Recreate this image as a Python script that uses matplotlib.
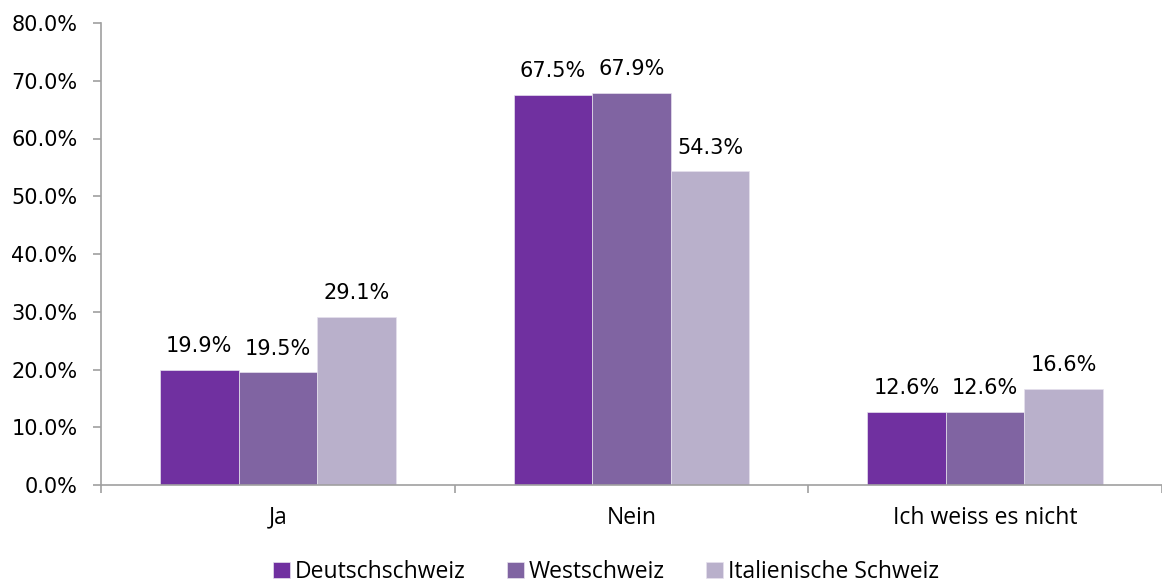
import matplotlib
matplotlib.use("Agg")
import matplotlib.pyplot as plt
import numpy as np
from matplotlib.ticker import FuncFormatter, FixedLocator

categories = ["Ja", "Nein", "Ich weiss es nicht"]
series_names = ["Deutschschweiz", "Westschweiz", "Italienische Schweiz"]
deutsch = [19.9, 67.5, 12.6]
west = [19.5, 67.9, 12.6]
ital = [29.1, 54.3, 16.6]
colors = ["#7030A0", "#8064A2", "#B9B0CB"]

fig = plt.figure(figsize=(11.62, 5.85), dpi=100)
W, H = 1162, 585
left, right = 101, 1162
top, bottom = 23, 485
ax = fig.add_axes([left / W, 1 - bottom / H, (right - left) / W, (bottom - top) / H])

x = np.arange(len(categories))
bw = 0.222
for i, (vals, name, c) in enumerate(zip([deutsch, west, ital], series_names, colors)):
    bars = ax.bar(x + (i - 1) * bw, vals, bw, color=c, label=name,
                  edgecolor="#E6E1EE", linewidth=0.5)
    for b, v in zip(bars, vals):
        ax.text(b.get_x() + b.get_width() / 2, v + 2.4, f"{v:.1f}%",
                ha="center", va="bottom", fontsize=15, color="#000000")

cat_w = 357.5
ax.set_xlim(-0.5, -0.5 + (right - left) / cat_w)
ax.set_ylim(0, 80)
ax.yaxis.set_major_locator(FixedLocator(np.arange(0, 81, 10)))
ax.yaxis.set_major_formatter(FuncFormatter(lambda v, p: f"{v:.1f}%"))
ax.tick_params(axis="y", labelsize=15, length=6, width=1.2, color="#A0A0A0", pad=11)

ax.set_xticks(x)
ax.set_xticklabels(categories, fontsize=16.5, family=["Open Sans", "DejaVu Sans"])
ax.tick_params(axis="x", length=0, pad=15)
ax.set_xticks([-0.5, 0.5, 1.5, 2.5], minor=True)
ax.tick_params(axis="x", which="minor", length=6, color="#A0A0A0", width=1.2)

for s in ["top", "right"]:
    ax.spines[s].set_visible(False)
for s in ["left", "bottom"]:
    ax.spines[s].set_color("#A0A0A0")
    ax.spines[s].set_linewidth(1.2)

leg = fig.legend(loc="center", bbox_to_anchor=(606 / W, 1 - 572 / H), ncol=3,
                 frameon=False, handlelength=0.75, handleheight=0.75,
                 handletextpad=0.2, columnspacing=1.8,
                 prop={"family": ["Open Sans", "DejaVu Sans"], "size": 16.5})

fig.savefig("out.png", dpi=100)
